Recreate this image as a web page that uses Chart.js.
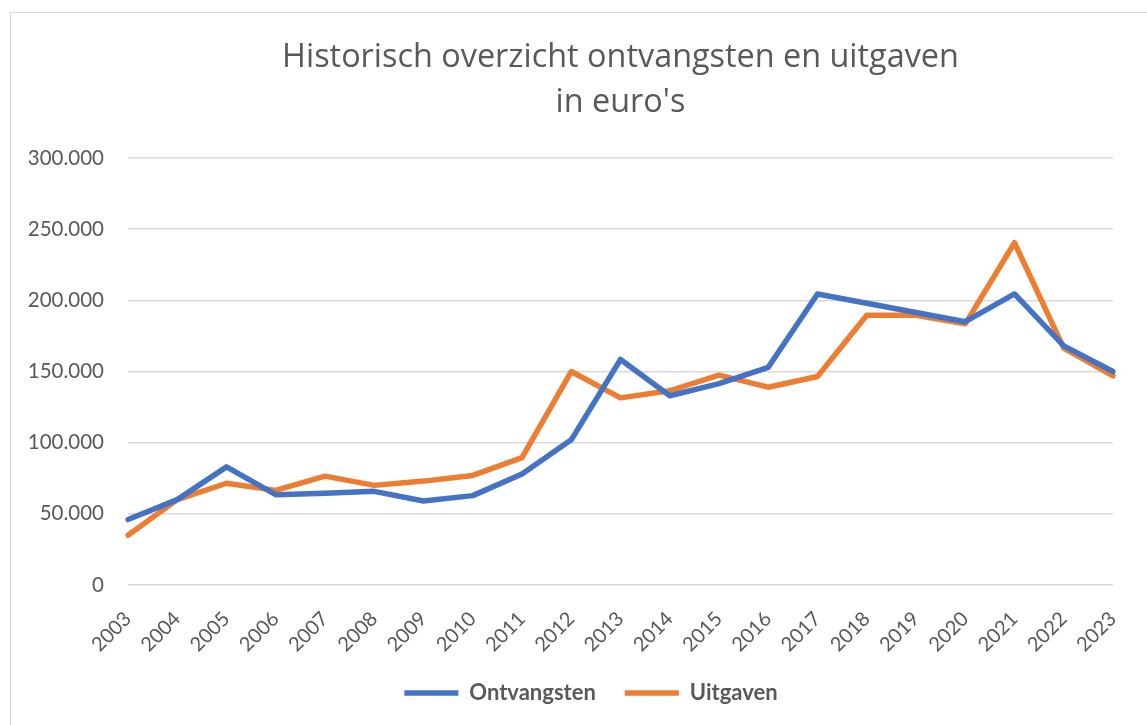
<!DOCTYPE html>
<html>
<head>
<meta charset="utf-8">
<script src="https://cdn.jsdelivr.net/npm/chart.js@4/dist/chart.umd.min.js"></script>
<style>
  html, body { margin: 0; padding: 0; background: #ffffff; }
  #wrap { position: relative; width: 1147px; height: 725px; overflow: hidden; }
  #frame { position: absolute; left: 10px; top: 12px; width: 1160px; height: 740px; border: 1px solid #d9d9d9; pointer-events: none; }
  canvas { position: absolute; left: 0; top: 0; }
</style>
</head>
<body>
<div id="wrap">
  <canvas id="c" width="1170" height="725"></canvas>
  <div id="frame"></div>
</div>
<script>
const years = ['2003','2004','2005','2006','2007','2008','2009','2010','2011','2012','2013','2014','2015','2016','2017','2018','2019','2020','2021','2022','2023'];
const ontvangsten = [46000, 60000, 83000, 63500, 64500, 65800, 59000, 62800, 78000, 102000, 158500, 133000, 141500, 153000, 204500, 198000, 191500, 185000, 204500, 168000, 150000];
const uitgaven = [35000, 60000, 71500, 66500, 76500, 70000, 73000, 77000, 89500, 150000, 131500, 136500, 147500, 139000, 146500, 189500, 189500, 183500, 240500, 166500, 147000];
const yTicks = [0, 50000, 100000, 150000, 200000, 250000, 300000];
const titleLines = ['Historisch overzicht ontvangsten en uitgaven', "in euro's"];

function fmt(v) {
  return String(v).replace(/\B(?=(\d{3})+(?!\d))/g, '.');
}

const FONT = 'Lato, "Open Sans", sans-serif';
const TFONT = '"Open Sans", Lato, sans-serif';
const GREY = '#595959';

new Chart(document.getElementById('c'), {
  type: 'line',
  data: {
    labels: years,
    datasets: [
      { label: 'Ontvangsten', data: ontvangsten, borderColor: '#4472C4', backgroundColor: '#4472C4', borderWidth: 5.5, pointRadius: 0, tension: 0, borderJoinStyle: 'round', borderCapStyle: 'round' },
      { label: 'Uitgaven', data: uitgaven, borderColor: '#ED7D31', backgroundColor: '#ED7D31', borderWidth: 5.5, pointRadius: 0, tension: 0, borderJoinStyle: 'round', borderCapStyle: 'round' }
    ]
  },
  options: {
    responsive: false,
    animation: false,
    layout: { padding: { left: 12, right: 0, top: 12, bottom: 11 } },
    plugins: {
      title: {
        display: true,
        fullSize: false,
        text: titleLines,
        color: GREY,
        font: { family: TFONT, size: 32.4, weight: 'normal', lineHeight: 1.39 },
        padding: { top: 23.5, bottom: 32.5 }
      },
      legend: {
        position: 'bottom',
        labels: {
          color: GREY,
          font: { family: FONT, size: 22, weight: 'bold' },
          usePointStyle: true,
          pointStyle: 'line',
          pointStyleWidth: 54,
          padding: 29
        }
      },
      tooltip: { enabled: false }
    },
    scales: {
      x: {
        offset: false,
        afterFit: (s) => { s.height = 68; },
        grid: { display: false },
        border: { display: false },
        ticks: { color: GREY, font: { family: FONT, size: 20 }, maxRotation: 45, minRotation: 45, padding: 14, autoSkip: false }
      },
      y: {
        min: 0,
        max: 300000,
        afterFit: (s) => { s.width = 116; },
        afterBuildTicks: (s) => { s.ticks = yTicks.map(v => ({ value: v })); },
        grid: { color: '#d9d9d9', lineWidth: 1.5, drawTicks: false },
        border: { display: false },
        ticks: { color: GREY, font: { family: FONT, size: 20.5 }, padding: 24, callback: (v) => fmt(v) }
      },
      spacer: {
        type: 'linear',
        position: 'right',
        min: 0,
        max: 1,
        afterFit: (s) => { s.width = 57; },
        grid: { display: false },
        border: { display: false },
        ticks: { display: false }
      }
    }
  }
});
</script>
</body>
</html>
